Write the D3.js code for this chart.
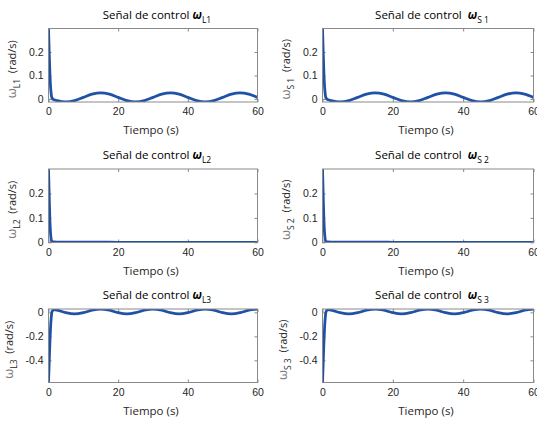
<!DOCTYPE html>
<html>
<head>
<meta charset="utf-8">
<script src="https://cdn.jsdelivr.net/npm/d3@7"></script>
<style>
  body { margin: 0; background: #fff; }
  svg { display: block; font-family: "Open Sans", sans-serif; }
  .tick text { fill: #262626; font-size: 10.5px; }
</style>
</head>
<body>
<svg id="fig" width="537" height="426"></svg>
<script>
// tiempo de simulacion (s)
var tiempo = [0, 0.2, 0.4, 0.6, 0.8, 1, 1.5, 2.5, 5, 7.5, 10, 12.5, 15, 17.5, 20,
  22.5, 25, 27.5, 30, 32.5, 35, 37.5, 40, 42.5, 45, 47.5, 50, 52.5, 55, 57.5, 60];

// senales de control (rad/s)
var wL1 = [0.3, 0.2, 0.11, 0.05, 0.018, 0.004, -0.003, -0.0075, -0.013, -0.0073, 0.0065,
  0.0203, 0.026, 0.0203, 0.0065, -0.0073, -0.013, -0.0073, 0.0065, 0.0203, 0.026, 0.0203,
  0.0065, -0.0073, -0.013, -0.0073, 0.0065, 0.0203, 0.026, 0.0203, 0.0065];
var wS1 = [0.3, 0.2, 0.11, 0.05, 0.018, 0.004, -0.003, -0.0075, -0.013, -0.0073, 0.0065,
  0.0203, 0.026, 0.0203, 0.0065, -0.0073, -0.013, -0.0073, 0.0065, 0.0203, 0.026, 0.0203,
  0.0065, -0.0073, -0.013, -0.0073, 0.0065, 0.0203, 0.026, 0.0203, 0.0065];
var wL2 = [0.3, 0.19, 0.09, 0.035, 0.01, 0.003, 0.0015, 0.001, 0.001, 0.0009, 0.0008,
  0.0007, 0.0006, 0.0005, 0.0004, 0.0003, 0.0002, 0.0001, 0, -0.0001, -0.0002, -0.0003,
  -0.0004, -0.0004, -0.0005, -0.0004, -0.0004, -0.0003, -0.0002, -0.0001, 0];
var wS2 = [0.3, 0.19, 0.09, 0.035, 0.01, 0.003, 0.0015, 0.001, 0.001, 0.0009, 0.0008,
  0.0007, 0.0006, 0.0005, 0.0004, 0.0003, 0.0002, 0.0001, 0, -0.0001, -0.0002, -0.0003,
  -0.0004, -0.0004, -0.0005, -0.0004, -0.0004, -0.0003, -0.0002, -0.0001, 0];
var wL3 = [-0.585, -0.42, -0.25, -0.12, -0.04, 0.005, 0.022, 0.018, -0.003, -0.013, -0.003,
  0.018, 0.028, 0.018, -0.003, -0.013, -0.003, 0.018, 0.028, 0.018, -0.003, -0.013,
  -0.003, 0.018, 0.028, 0.018, -0.003, -0.013, -0.003, 0.018, 0.028];
var wS3 = [-0.585, -0.42, -0.25, -0.12, -0.04, 0.005, 0.022, 0.018, -0.003, -0.013, -0.003,
  0.018, 0.028, 0.018, -0.003, -0.013, -0.003, 0.018, 0.028, 0.018, -0.003, -0.013,
  -0.003, 0.018, 0.028, 0.018, -0.003, -0.013, -0.003, 0.018, 0.028];

// ticks
var xTicks = [0, 20, 40, 60];
var yTicksPos = [0, 0.1, 0.2];
var yTicksNeg = [-0.4, -0.2, 0];

var panels = [
  { serie: wL1, sub: "L1", gap: " ", ticks: yTicksPos, col: 0, row: 0 },
  { serie: wS1, sub: "S\u00a01", gap: "\u00a0\u00a0", ticks: yTicksPos, col: 1, row: 0 },
  { serie: wL2, sub: "L2", gap: " ", ticks: yTicksPos, col: 0, row: 1 },
  { serie: wS2, sub: "S\u00a02", gap: "\u00a0\u00a0", ticks: yTicksPos, col: 1, row: 1 },
  { serie: wL3, sub: "L3", gap: " ", ticks: yTicksNeg, col: 0, row: 2 },
  { serie: wS3, sub: "S\u00a03", gap: "\u00a0\u00a0", ticks: yTicksNeg, col: 1, row: 2 }
];

var colLeft = [48.5, 322.5], colWidth = [209, 211];
var rowTop = [28.5, 169, 309], rowHeight = 73.5;
var axisColor = "#8a8a8a", lineColor = "#1f52a6";

var svg = d3.select("#fig");

panels.forEach(function(p, i) {
  var left = colLeft[p.col], top = rowTop[p.row];
  var w = colWidth[p.col], h = rowHeight;

  var x = d3.scaleLinear().domain([0, 60]).range([0, w]);
  var y = d3.scaleLinear().domain(d3.extent(p.serie)).range([h, 0]);

  var g = svg.append("g").attr("transform", "translate(" + left + "," + top + ")");

  g.append("clipPath").attr("id", "clip" + i)
    .append("rect").attr("width", w).attr("height", h);

  var fmt = function(d) { return String(+d.toFixed(2)); };

  // axes with inward ticks (box style)
  var xb = g.append("g").attr("transform", "translate(0," + h + ")")
    .call(d3.axisBottom(x).tickValues(xTicks).tickSizeInner(-3).tickSizeOuter(0)
      .tickPadding(6).tickFormat(fmt));
  var xt = g.append("g")
    .call(d3.axisTop(x).tickValues(xTicks).tickSizeInner(-3).tickSizeOuter(0).tickFormat(""));
  var yl = g.append("g")
    .call(d3.axisLeft(y).tickValues(p.ticks).tickSizeInner(-3).tickSizeOuter(0)
      .tickPadding(5).tickFormat(fmt));
  var yr = g.append("g").attr("transform", "translate(" + w + ",0)")
    .call(d3.axisRight(y).tickValues(p.ticks).tickSizeInner(-3).tickSizeOuter(0).tickFormat(""));
  [xb, xt, yl, yr].forEach(function(a) {
    a.select(".domain").remove();
    a.selectAll(".tick line").attr("stroke", axisColor);
  });
  xb.selectAll(".tick text").attr("dy", "0.71em");

  g.append("path")
    .datum(p.serie)
    .attr("clip-path", "url(#clip" + i + ")")
    .attr("fill", "none")
    .attr("stroke", lineColor)
    .attr("stroke-width", 2.8)
    .attr("stroke-linejoin", "round")
    .attr("d", d3.line()
      .x(function(d, k) { return x(tiempo[k]); })
      .y(function(d) { return y(d); })
      .curve(d3.curveMonotoneX));

  g.append("rect").attr("width", w).attr("height", h)
    .attr("fill", "none").attr("stroke", axisColor).attr("stroke-width", 1);

  // title
  var title = g.append("text")
    .attr("x", w / 2 + 4).attr("y", -10)
    .attr("text-anchor", "middle")
    .attr("font-size", 11.5).attr("fill", "#000");
  title.append("tspan").text("Señal de control" + p.gap);
  title.append("tspan").attr("font-weight", "bold").attr("font-style", "italic").text("ω");
  title.append("tspan").attr("font-size", 8.5).attr("dy", 4).text(p.sub);

  // x label
  g.append("text")
    .attr("x", w / 2 - 2).attr("y", h + 32)
    .attr("text-anchor", "middle")
    .attr("font-size", 11.5).attr("fill", "#262626")
    .text("Tiempo (s)");

  // y label
  var lx = p.row == 2 ? -35.5 : -32.5;
  var ylab = g.append("text")
    .attr("transform", "translate(" + lx + "," + (h / 2 + 4) + ") rotate(-90)")
    .attr("text-anchor", "middle")
    .attr("font-size", 11).attr("fill", "#262626");
  ylab.append("tspan").attr("fill", "#7a7a7a").attr("font-size", 13).text("ω");
  ylab.append("tspan").attr("font-size", 8.5).attr("dy", 4).text(p.sub);
  ylab.append("tspan").attr("dy", -4).text("\u00a0\u00a0(rad/s)");
});
</script>
</body>
</html>
